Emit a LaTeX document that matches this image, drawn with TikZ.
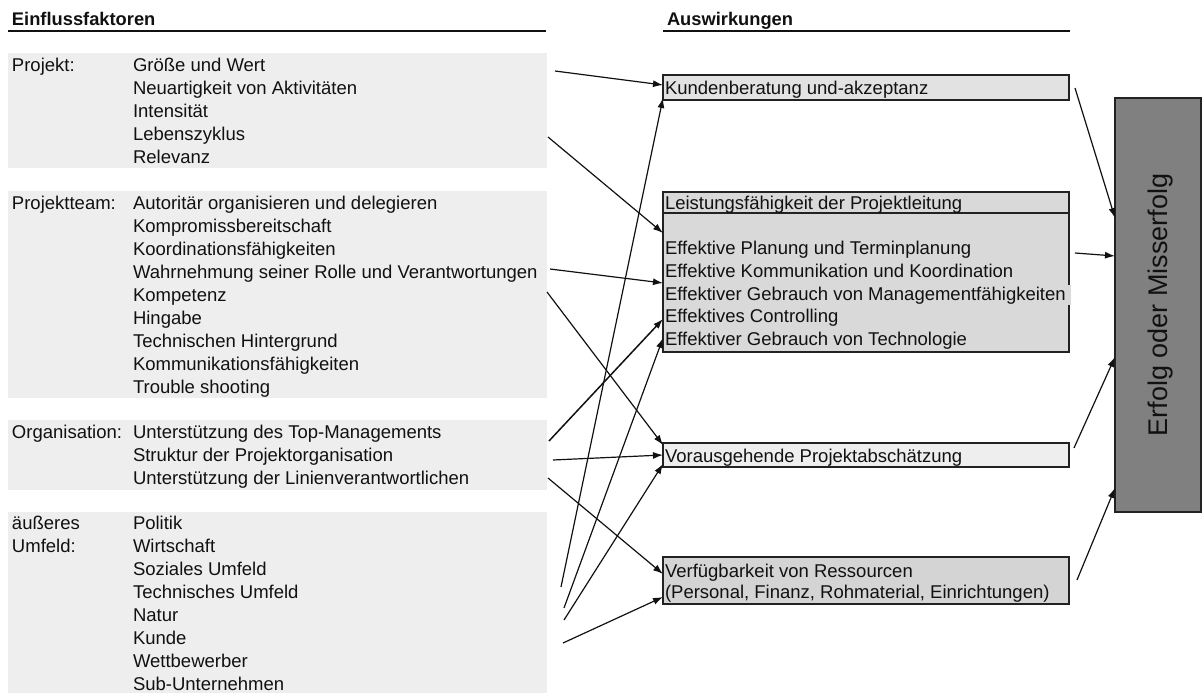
\documentclass[tikz,border=0pt]{standalone}
\usepackage{fontspec}
\setmainfont{Liberation Sans}
\usetikzlibrary{arrows.meta,calc}

\definecolor{panel}{HTML}{EEEEEE}
\definecolor{fillK}{HTML}{E2E2E2}
\definecolor{fillL}{HTML}{D9D9D9}
\definecolor{fillV}{HTML}{EEEEEE}
\definecolor{fillR}{HTML}{D4D4D4}
\definecolor{fillE}{HTML}{808080}
\definecolor{edge}{HTML}{222222}
\definecolor{ink}{HTML}{111111}

\begin{document}
\begin{tikzpicture}[x=1pt,y=-1pt,
  every node/.style={inner sep=0pt, outer sep=0pt},
  body/.style={font=\fontsize{18.5}{23}\selectfont, anchor=base west, text=ink},
  head/.style={font=\fontsize{18.3}{22}\selectfont\bfseries, anchor=base west, text=ink},
  panelbox/.style={fill=panel, anchor=north west, minimum width=539},
  effbox/.style={draw=edge, line width=1.6, anchor=north west, minimum width=406},
  conn/.style={line width=1.2, draw=ink, -{Latex[length=10pt,width=7pt]}}]

\useasboundingbox (0,0) rectangle (1203,693);

% column headings
\node[head] (hEin) at (12,25.6) {Einflussfaktoren};
\node[head] (hAus) at (667,25.6) {Auswirkungen};
\draw[line width=2, ink] (8,31) -- (546,31);
\draw[line width=2, ink] (663,31) -- (1070,31);

% factor panels
\node[panelbox, minimum height=115] (gP) at (8,53) {};
\node[panelbox, minimum height=207] (gT) at (8,191) {};
\node[panelbox, minimum height=70]  (gO) at (8,420) {};
\node[panelbox, minimum height=181] (gU) at (8,512) {};

\node[body] (lP) at (12,71.1) {Projekt:};
\foreach \t [count=\i from 0] in {Größe und Wert, Neuartigkeit von Aktivitäten, Intensität, Lebenszyklus, Relevanz}
  \node[body] (pj\i) at (133,{71.1+23*\i}) {\t};

\node[body] (lT) at (12,209.1) {Projektteam:};
\foreach \t [count=\i from 0] in {Autoritär organisieren und delegieren, Kompromissbereitschaft, Koordinationsfähigkeiten, Wahrnehmung seiner Rolle und Verantwortungen, Kompetenz, Hingabe, Technischen Hintergrund, Kommunikationsfähigkeiten, Trouble shooting}
  \node[body] (pt\i) at (133,{209.1+23*\i}) {\t};

\node[body] (lO) at (12,438.6) {Organisation:};
\foreach \t [count=\i from 0] in {Unterstützung des Top-Managements, Struktur der Projektorganisation, Unterstützung der Linienverantwortlichen}
  \node[body] (og\i) at (133,{438.6+23*\i}) {\t};

\node[body] (lU1) at (12,529.6) {äußeres};
\node[body] (lU2) at (12,552.6) {Umfeld:};
\foreach \t [count=\i from 0] in {Politik, Wirtschaft, Soziales Umfeld, Technisches Umfeld, Natur, Kunde, Wettbewerber, Sub-Unternehmen}
  \node[body] (um\i) at (133,{529.6+23*\i}) {\t};

% effect boxes
\node[effbox, fill=fillK, minimum height=25] (kb) at (663,75) {};
\node[body] (kbT) at (665,94.1) {Kundenberatung und-akzeptanz};

\node[effbox, fill=fillL, minimum height=160] (lp) at (663,192) {};
\draw[edge, line width=1.6] ($(lp.north west)+(0,21)$) -- ($(lp.north east)+(0,21)$);
\node[body] (lpH) at (665,209.3) {Leistungsfähigkeit der Projektleitung};
\fill[fillL] (1066,285) rectangle (1071,305);
\foreach \t [count=\i from 0] in {Effektive Planung und Terminplanung, Effektive Kommunikation und Koordination, Effektiver Gebrauch von Managementfähigkeiten, Effektives Controlling, Effektiver Gebrauch von Technologie}
  \node[body] (lp\i) at (665,{254.6+22.75*\i}) {\t};

\node[effbox, fill=fillV, minimum height=24] (vp) at (663,443) {};
\node[body] (vpT) at (665,462.6) {Vorausgehende Projektabschätzung};

\node[effbox, fill=fillR, minimum height=47] (vr) at (663,557) {};
\node[body] (vr1) at (665,577.3) {Verfügbarkeit von Ressourcen};
\node[body] (vr2) at (665,598.6) {(Personal, Finanz, Rohmaterial, Einrichtungen)};

% outcome box
\node[draw=edge, line width=1.6, fill=fillE, anchor=north west, minimum width=86, minimum height=414] (er) at (1115,98) {};
\node[font=\fontsize{27}{30}\selectfont, text=ink, rotate=90] (erT) at ($(er.center)+(3,0)$) {Erfolg oder Misserfolg};

% free ends of the influence connectors
\coordinate (s1) at (555,71);
\coordinate (s2) at (548,137);
\coordinate (s3) at (550,269);
\coordinate (s4) at (547,292);
\coordinate (s5) at (549,441);
\coordinate (s6) at (553,460);
\coordinate (s7) at (548,478);
\coordinate (s8) at (561,587);
\coordinate (s9) at (564,608);
\coordinate (s10) at (564,620);
\coordinate (s11) at (563,643);

\draw[conn] (s1) -- ($(kb.north west)+(0,10)$);
\draw[conn] (s2) -- ($(lp.north west)+(0,41)$);
\draw[conn] (s3) -- ($(lp.north west)+(0,91)$);
\draw[conn] (s4) -- ($(vp.north west)+(0,2)$);
\draw[conn, line width=1.5] (s5) -- ($(lp.north west)+(0,127)$);
\draw[conn] (s6) -- (vp.west);
\draw[conn] (s7) -- ($(vr.north west)+(0,17)$);
\draw[conn] (s8) -- ($(kb.south west)+(0,-2)$);
\draw[conn] (s9) -- ($(lp.north west)+(0,146)$);
\draw[conn] (s10) -- ($(vp.north west)+(0,21)$);
\draw[conn] (s11) -- ($(vr.north west)+(0,40)$);

% connectors into the outcome box
\coordinate (r1) at (1075,88);
\coordinate (r2) at (1075,253);
\coordinate (r3) at (1074,448);
\coordinate (r4) at (1077,580);
\draw[conn] (r1) -- ($(er.north west)+(0,120)$);
\draw[conn] (r2) -- ($(er.north west)+(0,158)$);
\draw[conn] (r3) -- ($(er.north west)+(0,259)$);
\draw[conn] (r4) -- ($(er.north west)+(0,390)$);

\end{tikzpicture}
\end{document}
